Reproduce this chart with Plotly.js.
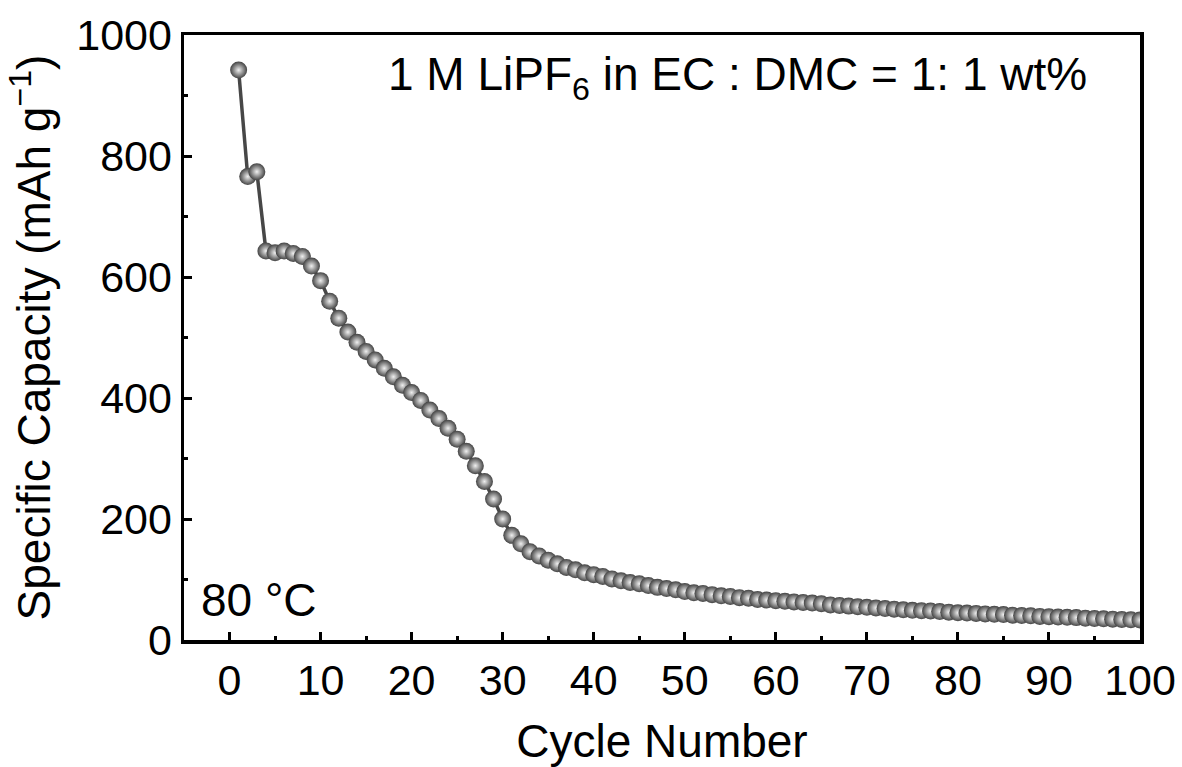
<!DOCTYPE html>
<html>
<head>
<meta charset="utf-8">
<script src="https://cdn.plot.ly/plotly-3.0.1.min.js"></script>
<style>html,body{margin:0;padding:0;background:#fff;}#chart{width:1182px;height:767px;}</style>
</head>
<body>
<div id="chart"></div>
<script>
const cycles = Array.from({length: 100}, (_, i) => i + 1);
const capacity = [
  942, 766, 774, 643, 640, 643, 639, 634, 618, 594,
  560, 532, 509, 492, 477, 463, 449, 435, 421, 409,
  396, 380, 366, 350, 332, 312, 288, 262, 233, 200,
  173, 159, 146, 139, 132, 126, 120, 116, 111, 108,
  105, 101, 98, 95, 93, 90, 87, 85, 83, 80,
  78, 77, 75, 73, 72, 70, 69, 67, 66, 65,
  64, 63, 62, 61, 60, 58, 57, 56, 55, 54,
  53, 52, 51, 50, 49, 48.5, 48, 47, 46, 45,
  44.5, 44, 43, 42.5, 42, 41, 40.5, 40, 39, 38.5,
  38, 37.5, 37, 36, 35.5, 35, 34.5, 34, 33.5, 33
];
const xTicks = [0, 10, 20, 30, 40, 50, 60, 70, 80, 90, 100];
const yTicks = [0, 200, 400, 600, 800, 1000];
const xTitle = 'Cycle Number';
const yTitle = 'Specific Capacity (mAh g<sup>\u22121</sup>)';
const electrolyteLabel = '1 M LiPF<sub>6</sub> in EC : DMC = 1: 1 wt%';
const tempLabel = '80 \u00B0C';

const font = 'Liberation Sans, Arial, sans-serif';

const trace = {
  x: cycles,
  y: capacity,
  type: 'scatter',
  mode: 'lines+markers',
  line: {color: '#474747', width: 3.5},
  marker: {
    size: 17,
    color: '#434343',
    gradient: {type: 'radial', color: '#f0f0f0'},
    line: {width: 0}
  },
  showlegend: false,
  hoverinfo: 'x+y'
};

const axisCommon = {
  showline: true,
  linecolor: '#000',
  linewidth: 3.5,
  mirror: true,
  ticks: 'inside',
  ticklen: 8,
  tickwidth: 3,
  tickcolor: '#000',
  showgrid: false,
  zeroline: false,
  tickfont: {family: font, size: 43, color: '#000'}
};

const layout = {
  width: 1182,
  height: 767,
  margin: {l: 184, r: 42, t: 35, b: 127},
  paper_bgcolor: '#fff',
  plot_bgcolor: '#fff',
  font: {family: font, color: '#000'},
  xaxis: Object.assign({}, axisCommon, {
    range: [-5, 100],
    tickmode: 'array',
    tickvals: xTicks,
    ticktext: xTicks.map(String),
    minor: {ticks: 'inside', ticklen: 4, tickwidth: 3, tickcolor: '#000', dtick: 5, tick0: 0},
    title: {text: xTitle, font: {family: font, size: 46, color: '#000'}, standoff: 24}
  }),
  yaxis: Object.assign({}, axisCommon, {
    range: [0, 1000],
    tickmode: 'array',
    tickvals: yTicks,
    ticktext: yTicks.map(String),
    minor: {ticks: 'inside', ticklen: 4, tickwidth: 3, tickcolor: '#000', dtick: 100, tick0: 0},
    title: {text: yTitle, font: {family: font, size: 46, color: '#000'}, standoff: 12}
  }),
  annotations: [
    {
      text: electrolyteLabel,
      xref: 'paper', yref: 'paper',
      x: 0.211, y: 0.93,
      xanchor: 'left', yanchor: 'middle',
      showarrow: false,
      font: {family: font, size: 46, color: '#000'}
    },
    {
      text: tempLabel,
      xref: 'paper', yref: 'paper',
      x: 0.016, y: 0.066,
      xanchor: 'left', yanchor: 'middle',
      showarrow: false,
      font: {family: font, size: 46, color: '#000'}
    }
  ]
};

Plotly.newPlot('chart', [trace], layout, {displayModeBar: false, staticPlot: true});
</script>
</body>
</html>
